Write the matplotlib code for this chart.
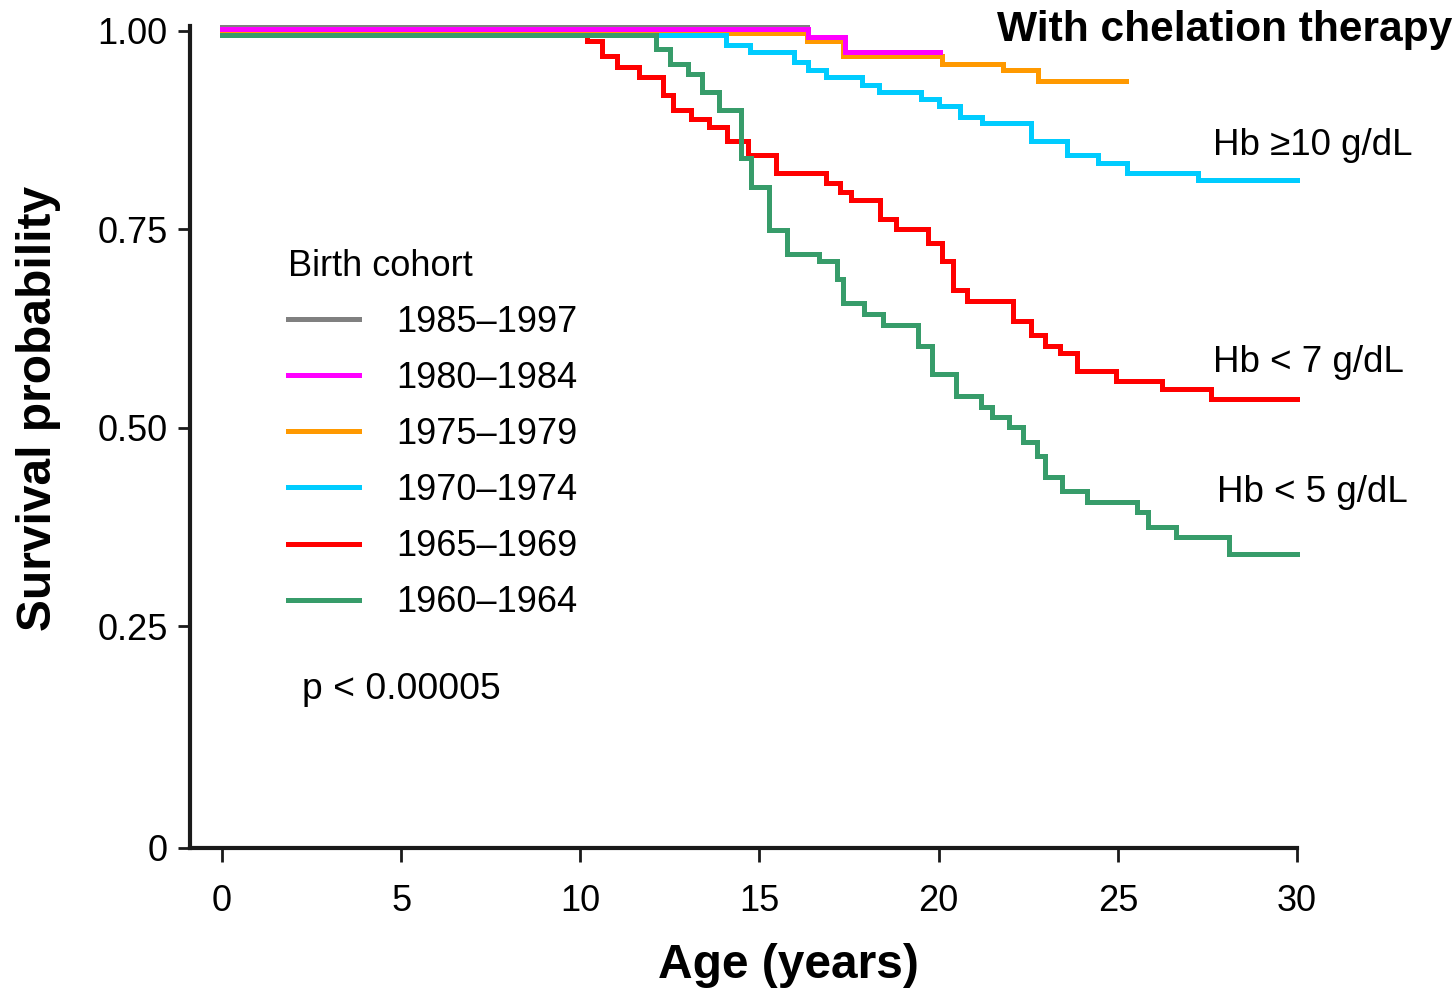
import matplotlib
matplotlib.use("Agg")
import matplotlib.pyplot as plt

plt.rcParams['font.family'] = ['Liberation Sans', 'DejaVu Sans']

# Kaplan-Meier steps (age in years, survival probability)
cohorts = ["1985\u20131997", "1980\u20131984", "1975\u20131979",
           "1970\u20131974", "1965\u20131969", "1960\u20131964"]
colors = ["#808080", "#ff00ff", "#ff9900", "#00ccff", "#ff0000", "#379c6a"]

t_1985 = [0, 16.32]
s_1985 = [1.005, 1.005]

t_1980 = [0, 16.35, 17.39, 20.04]
s_1980 = [1.0025, 0.993, 0.973, 0.973]

t_1975 = [0, 16.32, 17.33, 20.09, 21.79, 22.77, 25.22]
s_1975 = [0.998, 0.987, 0.9685, 0.959, 0.951, 0.9375, 0.9375]

t_1970 = [0, 14.06, 14.75, 15.97, 16.35, 16.85, 17.85, 18.34, 19.51, 20.02,
          20.6, 21.2, 22.58, 23.57, 24.46, 25.25, 27.23, 30]
s_1970 = [0.995, 0.982, 0.973, 0.9605, 0.951, 0.9416, 0.932, 0.9236, 0.9144, 0.9052,
          0.892, 0.884, 0.862, 0.844, 0.834, 0.8216, 0.8123, 0.8123]

t_1965 = [0, 10.2, 10.62, 11.03, 11.64, 12.32, 12.6, 13.09, 13.59, 14.09,
          14.67, 15.46, 16.87, 17.25, 17.55, 18.35, 18.82, 19.71, 20.1, 20.4,
          20.79, 22.08, 22.57, 22.97, 23.39, 23.85, 24.95, 26.23, 27.61, 30]
s_1965 = [0.995, 0.9874, 0.969, 0.955, 0.9416, 0.919, 0.901, 0.889, 0.8795, 0.8615,
          0.844, 0.8216, 0.808, 0.7976, 0.787, 0.7635, 0.7503, 0.7326, 0.71, 0.674,
          0.6605, 0.6348, 0.6166, 0.6037, 0.5945, 0.5722, 0.5592, 0.5495, 0.5365, 0.5365]

t_1960 = [0, 12.11, 12.5, 13.0, 13.39, 13.88, 14.49, 14.77, 15.27, 15.76,
          16.67, 17.16, 17.33, 17.93, 18.44, 19.42, 19.81, 20.49, 21.18, 21.48,
          21.97, 22.36, 22.75, 22.97, 23.45, 24.15, 25.53, 25.84, 26.62, 28.1, 30]
s_1960 = [0.995, 0.977, 0.959, 0.946, 0.9236, 0.901, 0.8397, 0.804, 0.7494, 0.719,
          0.7103, 0.687, 0.657, 0.6436, 0.6302, 0.6037, 0.5678, 0.5407, 0.5268, 0.5142,
          0.5016, 0.4827, 0.4651, 0.4379, 0.4207, 0.4072, 0.3938, 0.3757, 0.3631, 0.341, 0.341]

times = [t_1985, t_1980, t_1975, t_1970, t_1965, t_1960]
survs = [s_1985, s_1980, s_1975, s_1970, s_1965, s_1960]
zorders = [2, 4, 3, 5, 6, 7]

hb_labels = ["Hb \u226510 g/dL", "Hb < 7 g/dL", "Hb < 5 g/dL"]
hb_pos = [(27.66, 0.856), (27.66, 0.583), (27.77, 0.419)]

x_ticks = [0, 5, 10, 15, 20, 25, 30]
y_bottom = -0.029
y_ticks = [y_bottom, 0.25, 0.5, 0.75, 1.0]
y_ticklabels = ["0", "0.25", "0.50", "0.75", "1.00"]

# Figure / axes
fig = plt.figure(figsize=(14.56, 9.92), dpi=100)
ax = fig.add_axes([0.1305, 0.1452, 0.7603, 0.8284])

handles = []
for t, s, c, lab, z in zip(times, survs, colors, cohorts, zorders):
    h, = ax.step(t, s, where='post', color=c, lw=3.6, label=lab,
                 zorder=z, clip_on=False, solid_joinstyle='miter')
    handles.append(h)

ax.set_xlim(-0.89, 30)
ax.set_ylim(y_bottom, 1.006)
ax.set_xticks(x_ticks)
ax.set_yticks(y_ticks)
ax.set_yticklabels(y_ticklabels)

for side in ['top', 'right']:
    ax.spines[side].set_visible(False)
for side in ['left', 'bottom']:
    ax.spines[side].set_linewidth(3)
    ax.spines[side].set_color('#1a1a1a')

ax.tick_params(axis='x', direction='out', length=10, width=2, pad=16,
               labelsize=26, color='#1a1a1a')
ax.tick_params(axis='y', direction='out', length=9, width=2, pad=7,
               labelsize=26, color='#1a1a1a')

ax.set_xlabel("Age (years)", fontsize=34.5, fontweight='bold')
ax.xaxis.set_label_coords(0.541, -0.143)
ax.xaxis.label.set_va('center')
ax.set_ylabel("Survival probability", fontsize=34.5, fontweight='bold')
ax.yaxis.set_label_coords(-0.137, 0.535)
ax.yaxis.label.set_va('center')

# Legend
leg = ax.legend(handles=handles, title="Birth cohort", loc='upper left',
                bbox_to_anchor=(0.0758, 0.747), frameon=False, fontsize=26,
                title_fontsize=26, handlelength=1.95, handletextpad=1.05,
                labelspacing=0.585, borderaxespad=0)
leg._legend_box.align = "left"

# Annotations
for lab, (x, y) in zip(hb_labels, hb_pos):
    ax.text(x, y, lab, fontsize=26.5, ha='left', va='center')

ax.text(2.23, 0.17, "p < 0.00005", fontsize=26.8, ha='left', va='center')

fig.text(1452 / 1456, 1 - 30 / 992, "With chelation therapy", fontsize=30.6,
         fontweight='bold', ha='right', va='center')

fig.savefig("out.png", dpi=100)
